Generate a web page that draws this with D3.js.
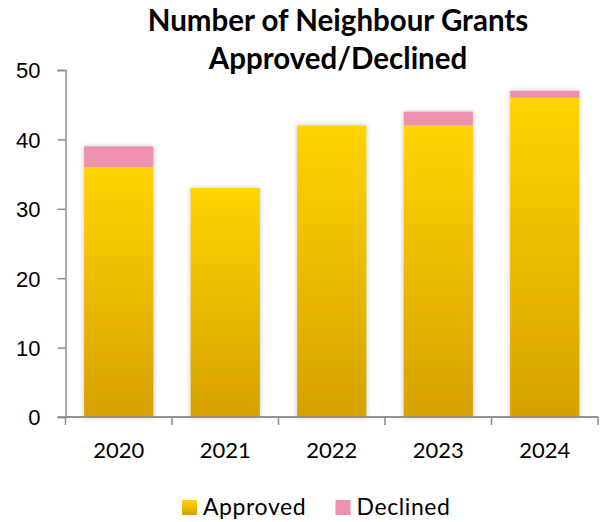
<!DOCTYPE html>
<meta charset="utf-8">
<title>Neighbour Grants</title>
<style>
body {
  margin: 0;
  background: #fff;
  font-family: Lato, "Open Sans", sans-serif;
}
.title {
  font-size: 29.5px;
  font-weight: bold;
  text-anchor: middle;
}
.axis text {
  font-size: 22px;
  fill: #000;
}
.axis path, .axis line {
  stroke: #8c8c8c;
  stroke-width: 1.5px;
}
.legend text {
  font-size: 23px;
  letter-spacing: 0.6px;
}
</style>
<body>
<svg width="600" height="522"></svg>
<script src="https://d3js.org/d3.v7.min.js"></script>
<script>
// data
var years = ["2020", "2021", "2022", "2023", "2024"];
var approved = [36, 33, 42, 42, 46];
var declined = [3, 0, 0, 2, 1];
var yTicks = [0, 10, 20, 30, 40, 50];

var svg = d3.select("svg"),
    margin = {top: 70, right: 2, bottom: 105, left: 65.5},
    width = +svg.attr("width") - margin.left - margin.right,
    height = +svg.attr("height") - margin.top - margin.bottom;

var defs = svg.append("defs");

// gold gradient like the excel fill
var grad = defs.append("linearGradient")
    .attr("id", "gold")
    .attr("x1", 0).attr("y1", 0).attr("x2", 0).attr("y2", 1);
grad.append("stop").attr("offset", "0%").attr("stop-color", "#ffd400");
grad.append("stop").attr("offset", "100%").attr("stop-color", "#d6a100");

// soft shadow round the bars
var shadow = defs.append("filter")
    .attr("id", "shadow")
    .attr("x", "-20%").attr("y", "-20%").attr("width", "140%").attr("height", "140%");
shadow.append("feDropShadow")
    .attr("dx", 0).attr("dy", 0)
    .attr("stdDeviation", 2.5)
    .attr("flood-color", "#000")
    .attr("flood-opacity", 0.25);

var g = svg.append("g")
    .attr("transform", "translate(" + margin.left + "," + margin.top + ")");

var x = d3.scaleBand()
    .domain(years)
    .range([0, width])
    .paddingInner(0.35)
    .paddingOuter(0.175);

var y = d3.scaleLinear()
    .domain([0, 50])
    .range([height, 0]);

// y axis
g.append("g")
    .attr("class", "axis")
    .call(d3.axisLeft(y).tickValues(yTicks).tickSize(8).tickPadding(17).tickSizeOuter(8))
    .call(function(s) { s.selectAll("text").attr("dy", "0.36em"); });

// x axis with ticks between categories
var xAxis = g.append("g")
    .attr("class", "axis")
    .attr("transform", "translate(0," + height + ")");
xAxis.append("line")
    .attr("x1", -8).attr("x2", width)
    .attr("y1", 0).attr("y2", 0);
var edges = years.map(function(d) { return x(d) - x.step() * x.paddingInner() / 2; });
edges.push(width);
xAxis.selectAll(".edge")
    .data(edges)
  .enter().append("line")
    .attr("class", "edge")
    .attr("x1", function(d) { return d; })
    .attr("x2", function(d) { return d; })
    .attr("y1", 0).attr("y2", 8);
xAxis.selectAll(".lab")
    .data(years)
  .enter().append("text")
    .attr("class", "lab")
    .attr("x", function(d) { return x(d) + x.bandwidth() / 2; })
    .attr("y", 41)
    .attr("text-anchor", "middle")
    .text(function(d) { return d; });

// stacked bars
var bars = g.append("g").selectAll("g")
    .data(years)
  .enter().append("g")
    .attr("filter", "url(#shadow)");

bars.append("rect")
    .attr("x", function(d) { return x(d); })
    .attr("width", x.bandwidth())
    .attr("y", function(d, i) { return y(approved[i]); })
    .attr("height", function(d, i) { return y(0) - y(approved[i]); })
    .attr("fill", "url(#gold)");

bars.filter(function(d, i) { return declined[i] > 0; })
  .append("rect")
    .attr("x", function(d) { return x(d); })
    .attr("width", x.bandwidth())
    .attr("y", function(d) { var i = years.indexOf(d); return y(approved[i] + declined[i]); })
    .attr("height", function(d) { var i = years.indexOf(d); return y(approved[i]) - y(approved[i] + declined[i]); })
    .attr("fill", "#ee91ae");

// re-draw the baseline on top of the bars
g.append("line")
    .attr("x1", 0).attr("x2", width)
    .attr("y1", height).attr("y2", height)
    .attr("stroke", "#8c8c8c").attr("stroke-width", 1.5);

// title
var title = svg.append("text")
    .attr("class", "title")
    .attr("x", 338)
    .attr("y", 31);
title.append("tspan").attr("x", 338).attr("dy", 0).text("Number of Neighbour Grants");
title.append("tspan").attr("x", 338).attr("dy", 38).text("Approved/Declined");

// legend
var legend = svg.append("g").attr("class", "legend");
var items = [
  {name: "Approved", fill: "url(#gold)", x: 182},
  {name: "Declined", fill: "#ee91ae", x: 335.5}
];
var li = legend.selectAll("g")
    .data(items)
  .enter().append("g")
    .attr("transform", function(d) { return "translate(" + d.x + ",500)"; });
li.append("rect")
    .attr("width", 15).attr("height", 15)
    .attr("fill", function(d) { return d.fill; });
li.append("text")
    .attr("x", 21)
    .attr("y", 15)
    .text(function(d) { return d.name; });
</script>
</body>
